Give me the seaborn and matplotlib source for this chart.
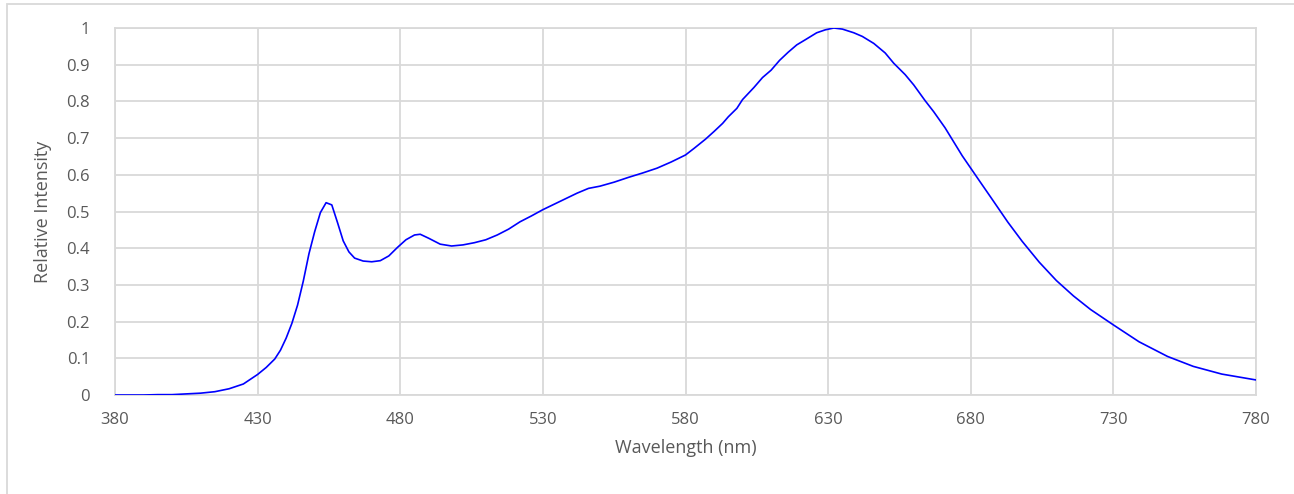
import matplotlib
matplotlib.use("Agg")
import matplotlib.pyplot as plt
import seaborn as sns
import pandas as pd
from matplotlib.patches import Rectangle

wavelength = [380, 385, 390, 395, 400, 405, 410, 415, 420, 425, 430, 433, 436, 438, 440,
              442, 444, 446, 448, 450, 452, 454, 456, 458, 460, 462, 464, 467, 470, 473,
              476, 479, 482, 485, 487, 490, 494, 498, 502, 506, 510, 514, 518, 522, 526,
              530, 534, 538, 542, 546, 550, 555, 560, 565, 570, 575, 580, 583, 587, 590,
              593, 595, 598, 600, 604, 607, 610, 613, 616, 619, 622, 626, 629, 632, 635,
              639, 642, 646, 650, 653, 657, 660, 664, 667, 671, 674, 677, 680, 683, 687,
              690, 693, 698, 704, 710, 716, 722, 730, 739, 749, 758, 768, 780]
intensity = [0.0, 0.0, 0.0, 0.001, 0.001, 0.003, 0.005, 0.009, 0.017, 0.03, 0.056, 0.075, 0.098, 0.122, 0.155,
             0.195, 0.245, 0.31, 0.385, 0.445, 0.497, 0.524, 0.518, 0.47, 0.42, 0.39, 0.373, 0.365, 0.363, 0.366,
             0.379, 0.402, 0.423, 0.436, 0.438, 0.427, 0.411, 0.406, 0.409, 0.415, 0.423, 0.436, 0.452, 0.472, 0.488,
             0.505, 0.52, 0.535, 0.55, 0.563, 0.569, 0.58, 0.593, 0.605, 0.618, 0.635, 0.654, 0.672, 0.697, 0.718,
             0.74, 0.758, 0.781, 0.805, 0.838, 0.865, 0.885, 0.912, 0.934, 0.954, 0.968, 0.987, 0.995, 1.0, 0.997,
             0.987, 0.977, 0.958, 0.932, 0.904, 0.873, 0.845, 0.802, 0.772, 0.728, 0.69, 0.652, 0.618, 0.584, 0.539,
             0.505, 0.471, 0.419, 0.362, 0.312, 0.27, 0.233, 0.191, 0.145, 0.105, 0.078, 0.057, 0.041]
x_ticks = [380, 430, 480, 530, 580, 630, 680, 730, 780]
y_ticks = [0, 0.1, 0.2, 0.3, 0.4, 0.5, 0.6, 0.7, 0.8, 0.9, 1]
y_tick_labels = ["0", "0.1", "0.2", "0.3", "0.4", "0.5", "0.6", "0.7", "0.8", "0.9", "1"]

sns.set_theme(style="white")
plt.rcParams["font.family"] = ["Open Sans", "DejaVu Sans"]

df = pd.DataFrame({"Wavelength": wavelength, "Intensity": intensity})

fig = plt.figure(figsize=(12.94, 4.94), dpi=100)
ax = fig.add_axes([115 / 1294, 99 / 494, (1256 - 115) / 1294, (395 - 28) / 494])

grid_c = "#d9d9d9"
sns.lineplot(data=df, x="Wavelength", y="Intensity", ax=ax, color="#0000ff", linewidth=1.2, zorder=3)

ax.set_xlim(380, 780)
ax.set_ylim(0, 1)
ax.set_xticks(x_ticks)
ax.set_yticks(y_ticks)
ax.set_yticklabels(y_tick_labels)
ax.grid(True, color=grid_c, linewidth=1.3)
for s in ax.spines.values():
    s.set_color(grid_c)
    s.set_linewidth(1.3)
ax.tick_params(axis="both", length=0, labelsize=12, colors="#595959")
ax.tick_params(axis="x", pad=12)
ax.tick_params(axis="y", pad=18)
ax.set_xlabel("Wavelength (nm)", fontsize=13, color="#595959", labelpad=8)
ax.set_ylabel("Relative Intensity", fontsize=13, color="#595959", labelpad=10)

fig.patches.append(Rectangle((7 / 1294, -0.1), 1.2, (494 - 4) / 494 + 0.1, transform=fig.transFigure,
                             fill=False, edgecolor="#d9d9d9", linewidth=1.3))

fig.savefig("out.png", dpi=100, facecolor="white")
